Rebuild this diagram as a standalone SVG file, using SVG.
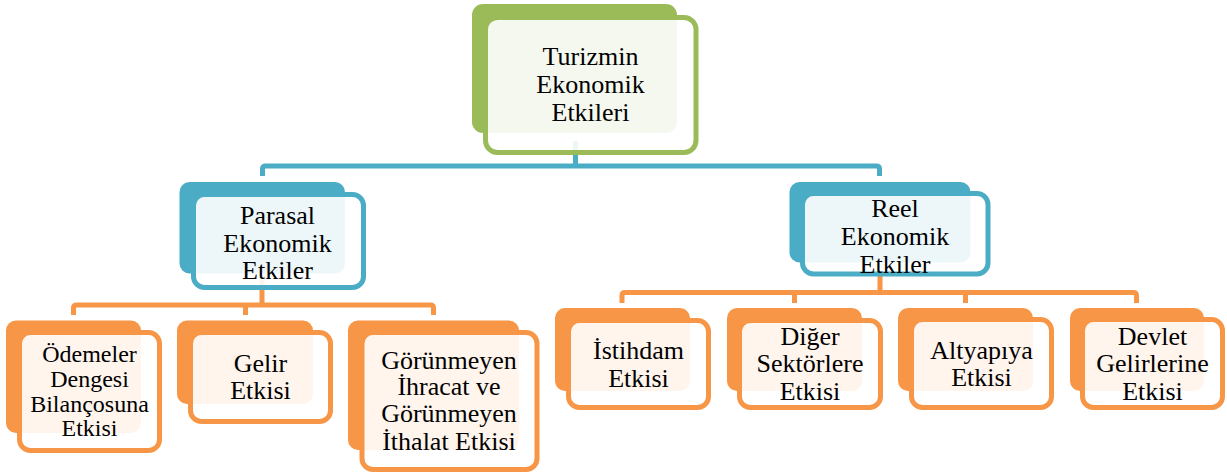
<svg xmlns="http://www.w3.org/2000/svg" width="1227" height="475" viewBox="0 0 1227 475">
  <style>
    .back { stroke: none; }
    .front { fill: #ffffff; fill-opacity: 0.9; stroke-width: 5; }
    .green .back { fill: #9BBB59; }
    .green .front { stroke: #9BBB59; }
    .blue .back { fill: #4BACC6; }
    .blue .front { stroke: #4BACC6; }
    .orange .back { fill: #F79646; }
    .orange .front { stroke: #F79646; }
    .link { fill: none; stroke-width: 5; stroke-linejoin: round; }
    .link.b { stroke: #4BACC6; }
    .link.o { stroke: #F79646; }
    .lbl { font-size: 26px; fill: #000000; text-anchor: middle; }
    .small { font-size: 24px; }
  </style>

  <rect width="1227" height="475" fill="#ffffff"/>

  <!-- connectors (drawn first so the translucent front panels sit over them) -->
  <g id="connectors">
    <path class="link b" d="M575.5 141 V166 M262.5 176 V169 Q262.5 166 265.5 166 H876.5 Q879.5 166 879.5 169 V176"/>
    <path class="link o" d="M262 280 V305 M73.5 315 V308 Q73.5 305 76.5 305 H430.5 Q433.5 305 433.5 308 V315 M245.5 305 V315"/>
    <path class="link o" d="M880 270 V292.5 M622 303 V295.5 Q622 292.5 625 292.5 H1133.5 Q1136.5 292.5 1136.5 295.5 V303 M794.5 292.5 V303 M965.5 292.5 V303"/>
  </g>

  <g font-family="Liberation Serif, DejaVu Serif, serif">
  <!-- level 0 -->
  <g id="turizmin" class="green">
    <rect class="back" x="472" y="4" width="205" height="129" rx="11"/>
    <rect class="front" x="485.5" y="17.5" width="210.5" height="135" rx="12"/>
    <text class="lbl" x="590.5" y="65">Turizmin</text>
    <text class="lbl" x="590.5" y="93">Ekonomik</text>
    <text class="lbl" x="590.5" y="121">Etkileri</text>
  </g>

  <!-- level 1 -->
  <g id="parasal" class="blue">
    <rect class="back" x="179.5" y="182" width="165.5" height="91.5" rx="10"/>
    <rect class="front" x="193.5" y="194.5" width="170" height="93" rx="11"/>
    <text class="lbl" x="277.5" y="224">Parasal</text>
    <text class="lbl" x="277.5" y="251.5">Ekonomik</text>
    <text class="lbl" x="277.5" y="278.5">Etkiler</text>
  </g>

  <g id="reel" class="blue">
    <rect class="back" x="789.5" y="182" width="181" height="80.5" rx="10"/>
    <rect class="front" x="802.5" y="193.5" width="185.5" height="80.5" rx="11"/>
    <text class="lbl" x="895" y="216.5">Reel</text>
    <text class="lbl" x="895" y="245">Ekonomik</text>
    <text class="lbl" x="895" y="272.5">Etkiler</text>
  </g>

  <!-- level 2: parasal -->
  <g id="odemeler" class="orange">
    <rect class="back" x="6" y="320.5" width="135" height="112.5" rx="10"/>
    <rect class="front" x="19.5" y="332.5" width="140" height="118" rx="11"/>
    <text class="lbl small" x="89.5" y="361.5">Ödemeler</text>
    <text class="lbl small" x="89.5" y="386.5">Dengesi</text>
    <text class="lbl small" x="89.5" y="411.5">Bilançosuna</text>
    <text class="lbl small" x="89.5" y="436">Etkisi</text>
  </g>

  <g id="gelir" class="orange">
    <rect class="back" x="177" y="320.5" width="136" height="83.5" rx="10"/>
    <rect class="front" x="190.5" y="332.5" width="140" height="89" rx="11"/>
    <text class="lbl" x="260.5" y="371.5">Gelir</text>
    <text class="lbl" x="260.5" y="398.5">Etkisi</text>
  </g>

  <g id="gorunmeyen" class="orange">
    <rect class="back" x="348" y="320.5" width="171" height="129.5" rx="10"/>
    <rect class="front" x="362" y="332.5" width="175" height="137" rx="11"/>
    <text class="lbl" x="449" y="368.5">Görünmeyen</text>
    <text class="lbl" x="449" y="395">İhracat ve</text>
    <text class="lbl" x="449" y="422">Görünmeyen</text>
    <text class="lbl" x="449" y="449.5">İthalat Etkisi</text>
  </g>

  <!-- level 2: reel -->
  <g id="istihdam" class="orange">
    <rect class="back" x="555" y="308" width="135" height="83" rx="10"/>
    <rect class="front" x="568.5" y="320.5" width="140" height="87" rx="11"/>
    <text class="lbl" x="638.5" y="358.5">İstihdam</text>
    <text class="lbl" x="638.5" y="386.5">Etkisi</text>
  </g>

  <g id="diger" class="orange">
    <rect class="back" x="727" y="308" width="135" height="83" rx="10"/>
    <rect class="front" x="739.5" y="320.5" width="141" height="87" rx="11"/>
    <text class="lbl" x="810" y="345">Diğer</text>
    <text class="lbl" x="810" y="372">Sektörlere</text>
    <text class="lbl" x="810" y="399.5">Etkisi</text>
  </g>

  <g id="altyapi" class="orange">
    <rect class="back" x="898" y="308" width="135" height="83" rx="10"/>
    <rect class="front" x="911.5" y="319.5" width="140" height="88" rx="11"/>
    <text class="lbl" x="981.5" y="358.5">Altyapıya</text>
    <text class="lbl" x="981.5" y="386">Etkisi</text>
  </g>

  <g id="devlet" class="orange">
    <rect class="back" x="1070" y="308" width="134" height="83" rx="10"/>
    <rect class="front" x="1082.5" y="319.5" width="140" height="88" rx="11"/>
    <text class="lbl" x="1152.5" y="345">Devlet</text>
    <text class="lbl" x="1152.5" y="372">Gelirlerine</text>
    <text class="lbl" x="1152.5" y="399.5">Etkisi</text>
  </g>
  </g>
</svg>
